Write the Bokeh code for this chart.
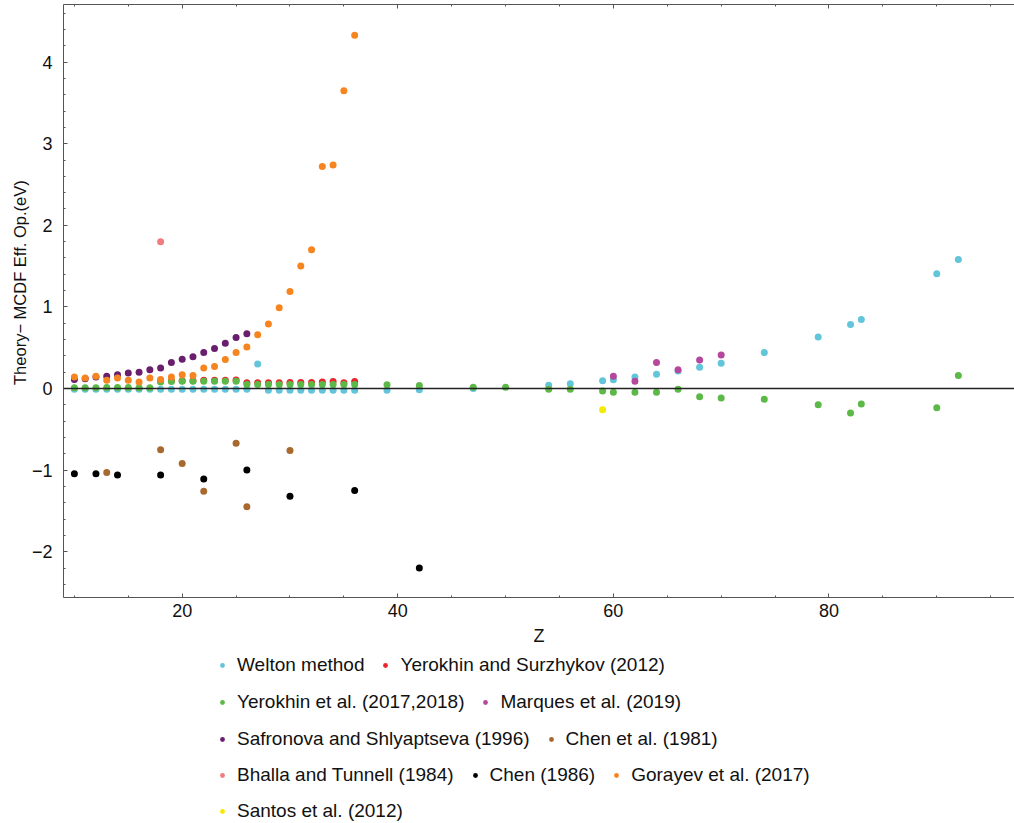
from bokeh.plotting import figure
from bokeh.models import (Range1d, FixedTicker, LinearAxis, Span, Legend, LegendItem,
                          CustomJSTickFormatter)
from bokeh.layouts import column
from bokeh.embed import file_html
from bokeh.resources import INLINE

# ---------------- data ----------------
welton_z = [10, 11, 12, 13, 14, 15, 16, 17, 18, 19, 20, 21, 22, 23, 24, 25, 26, 27, 28, 29, 30,
            31, 32, 33, 34, 35, 36, 39, 42, 47, 54, 56, 59, 60, 62, 64, 66, 68, 70, 74, 79, 82,
            83, 90, 92]
welton_v = [-0.01, -0.01, -0.01, -0.01, -0.01, -0.01, -0.01, -0.01, -0.01, -0.01, -0.01, -0.01,
            -0.01, -0.01, -0.01, -0.01, -0.01, 0.30, -0.02, -0.02, -0.02, -0.02, -0.02, -0.02,
            -0.02, -0.02, -0.02, -0.02, -0.015, 0.0, 0.04, 0.057, 0.094, 0.106, 0.14, 0.175,
            0.215, 0.26, 0.31, 0.44, 0.63, 0.785, 0.845, 1.405, 1.58]

ys2012_z = [18, 19, 20, 21, 22, 23, 24, 25, 26, 27, 28, 29, 30, 31, 32, 33, 34, 35, 36]
ys2012_v = [0.09, 0.095, 0.095, 0.095, 0.10, 0.10, 0.10, 0.105, 0.07, 0.07, 0.07, 0.07, 0.075,
            0.075, 0.075, 0.08, 0.085, 0.07, 0.085]

yer_z = [10, 11, 12, 13, 14, 15, 16, 17, 18, 19, 20, 21, 22, 23, 24, 25, 26, 27, 28, 29, 30,
         31, 32, 33, 34, 35, 36, 39, 42, 47, 50, 54, 56, 59, 60, 62, 64, 66, 68, 70, 74, 79,
         82, 83, 90, 92]
yer_v = [0.01, 0.01, 0.01, 0.012, 0.012, 0.012, 0.01, 0.01, 0.08, 0.086, 0.088, 0.088, 0.088,
         0.09, 0.09, 0.09, 0.05, 0.05, 0.05, 0.05, 0.05, 0.05, 0.05, 0.05, 0.05, 0.05, 0.05,
         0.045, 0.037, 0.016, 0.016, -0.01, -0.01, -0.03, -0.045, -0.045, -0.045, -0.01,
         -0.10, -0.115, -0.13, -0.20, -0.30, -0.19, -0.235, 0.16]

marq_z = [60, 62, 64, 66, 68, 70]
marq_v = [0.15, 0.09, 0.32, 0.23, 0.35, 0.41]

safr_z = [10, 11, 12, 13, 14, 15, 16, 17, 18, 19, 20, 21, 22, 23, 24, 25, 26]
safr_v = [0.11, 0.12, 0.14, 0.15, 0.17, 0.19, 0.20, 0.23, 0.25, 0.32, 0.36, 0.39, 0.44, 0.49,
          0.555, 0.625, 0.67]

chen81_z = [13, 18, 20, 22, 25, 26, 30]
chen81_v = [-1.03, -0.75, -0.92, -1.26, -0.67, -1.45, -0.76]

bhalla_z = [18]
bhalla_v = [1.80]

chen86_z = [10, 12, 14, 18, 22, 26, 30, 36, 42]
chen86_v = [-1.046, -1.046, -1.06, -1.06, -1.11, -1.00, -1.32, -1.25, -2.20]

gor_z = [10, 11, 12, 13, 14, 15, 16, 17, 18, 19, 20, 21, 22, 23, 24, 25, 26, 27, 28, 29, 30,
         31, 32, 33, 34, 35, 36]
gor_v = [0.14, 0.13, 0.15, 0.10, 0.13, 0.10, 0.08, 0.13, 0.11, 0.14, 0.17, 0.16, 0.25, 0.27,
         0.355, 0.44, 0.51, 0.66, 0.79, 0.99, 1.19, 1.50, 1.70, 2.72, 2.74, 3.65, 4.33]

santos_z = [59]
santos_v = [-0.26]

labels = ["Welton method", "Yerokhin and Surzhykov (2012)", "Yerokhin et al. (2017,2018)",
          "Marques et al. (2019)", "Safronova and Shlyaptseva (1996)", "Chen et al. (1981)",
          "Bhalla and Tunnell (1984)", "Chen (1986)", "Gorayev et al. (2017)",
          "Santos et al. (2012)"]
colors = ["#63C5DA", "#E8262C", "#5DB947", "#B5489D", "#6A1F6E", "#A7692E", "#F07C7E",
          "#000000", "#F7851F", "#F5EB00"]
series = [(welton_z, welton_v), (ys2012_z, ys2012_v), (yer_z, yer_v), (marq_z, marq_v),
          (safr_z, safr_v), (chen81_z, chen81_v), (bhalla_z, bhalla_v), (chen86_z, chen86_v),
          (gor_z, gor_v), (santos_z, santos_v)]

x_major = [20, 40, 60, 80]
x_minor = [10, 15, 25, 30, 35, 45, 50, 55, 65, 70, 75, 85, 90, 95]
y_major = [-2, -1, 0, 1, 2, 3, 4]
y_minor = [round(-2.4 + 0.2 * i, 1) for i in range(36)]

FONT = "Liberation Sans"
AX = "#555555"
TXT = "#111111"

# ---------------- main plot ----------------
p = figure(width=1014, height=651, output_backend="svg", toolbar_location=None,
           x_range=Range1d(8.99, 97.21), y_range=Range1d(-2.561, 4.706),
           min_border_left=63, min_border_right=0, min_border_top=4, min_border_bottom=54,
           x_axis_label="Z",
           y_axis_label="\u00a0" * 8 + "Theory\u2212 MCDF Eff. Op.(eV)")
p.outline_line_color = None
p.xgrid.visible = False
p.ygrid.visible = False
p.background_fill_color = "white"

for (zs, vs), c in zip(series, colors):
    p.scatter(zs, vs, size=7, color=c, line_color=None)

p.add_layout(Span(location=0, dimension="width", line_color="#222222", line_width=1.3))

xa = p.xaxis[0]
xa.ticker = FixedTicker(ticks=x_major, minor_ticks=x_minor)
ya = p.yaxis[0]
ya.ticker = FixedTicker(ticks=y_major, minor_ticks=y_minor)
ya.major_label_overrides = {-2: "\u22122", -1: "\u22121"}

for ax in (xa, ya):
    ax.axis_line_color = AX
    ax.major_tick_line_color = AX
    ax.minor_tick_line_color = AX
    ax.major_tick_in = 4
    ax.major_tick_out = 0
    ax.minor_tick_in = 2
    ax.minor_tick_out = 0
    ax.major_label_text_font = FONT
    ax.major_label_text_font_size = "18px"
    ax.major_label_text_color = TXT
    ax.axis_label_text_font = FONT
    ax.axis_label_text_font_style = "normal"
    ax.axis_label_text_color = TXT

xa.major_label_standoff = 6
xa.axis_label_standoff = 6
xa.axis_label_text_font_size = "18px"
ya.major_label_standoff = 11
ya.axis_label_standoff = 0
ya.axis_label_text_font_size = "16.5px"

top = LinearAxis(ticker=FixedTicker(ticks=x_major, minor_ticks=x_minor),
                 formatter=CustomJSTickFormatter(code="return ''"),
                 major_label_standoff=0,
                 axis_line_color=AX, major_tick_line_color=AX, minor_tick_line_color=AX,
                 major_tick_in=4, major_tick_out=0, minor_tick_in=2, minor_tick_out=0)
p.add_layout(top, "above")

# ---------------- legend panel (same series, their points fall outside its frame) ----------------
lg = figure(width=1014, height=172, output_backend="svg", toolbar_location=None,
            x_range=Range1d(0, 1), y_range=Range1d(0, 1),
            x_axis_location=None, y_axis_location=None,
            min_border_left=0, min_border_right=0, min_border_top=0, min_border_bottom=0)
lg.xgrid.visible = False
lg.ygrid.visible = False
lg.outline_line_color = None

lrends = []
for (zs, vs), c in zip(series, colors):
    lrends.append(lg.scatter(zs, vs, size=4.7, color=c, line_color=None))

rows = [[0, 1], [2, 3], [4, 5], [6, 7, 8], [9]]
row_y = [147, 110, 73, 37, 1]
for idx, yy in zip(rows, row_y):
    leg = Legend(items=[LegendItem(label=labels[i], renderers=[lrends[i]]) for i in idx],
                 orientation="horizontal", location=(153, yy),
                 glyph_width=12, glyph_height=12, label_height=20, label_standoff=9,
                 spacing=15, padding=0, margin=0, border_line_color=None,
                 background_fill_alpha=0, label_text_font=FONT,
                 label_text_font_size="19px", label_text_color=TXT)
    lg.add_layout(leg, "center")

layout = column(p, lg, spacing=0)
open("out.html", "w").write(file_html(layout, INLINE))
